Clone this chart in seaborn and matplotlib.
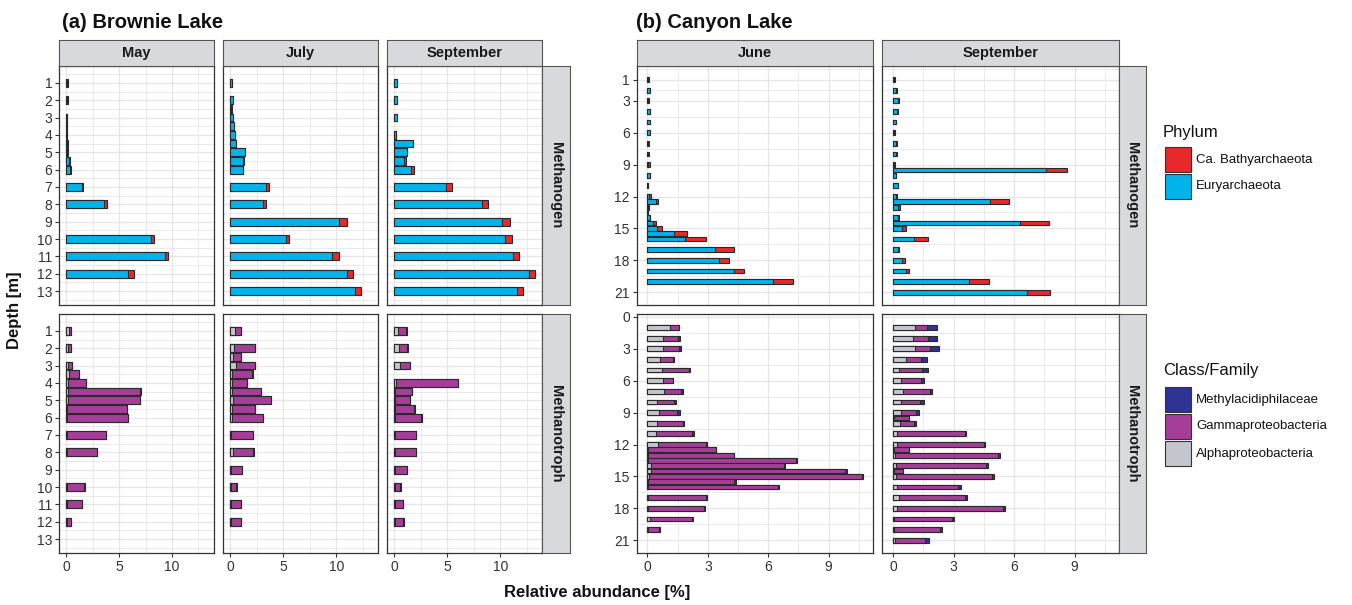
import numpy as np
import pandas as pd
import matplotlib
matplotlib.use("Agg")
import matplotlib.pyplot as plt
from matplotlib.patches import Rectangle
import seaborn as sns

# ---------------- data ----------------
# Brownie Lake, methanogens (Euryarchaeota, Ca. Bathyarchaeota), % relative abundance
br_may_mg_depth = [1, 2, 3, 3.5, 4, 4.5, 5, 5.5, 6, 7, 8, 10, 11, 12]
br_may_eury = [0.03, 0.03, 0.02, 0.02, 0.02, 0.10, 0.08, 0.25, 0.38, 1.48, 3.56, 8.04, 9.37, 5.87]
br_may_bathy = [0.08, 0.08, 0.05, 0.04, 0.03, 0.09, 0.07, 0.10, 0.06, 0.12, 0.29, 0.26, 0.25, 0.57]

br_jul_mg_depth = [1, 2, 2.5, 3, 3.5, 4, 4.5, 5, 5.5, 6, 7, 8, 9, 10, 11, 12, 13]
br_jul_eury = [0.15, 0.22, 0.05, 0.20, 0.30, 0.40, 0.50, 1.35, 1.20, 1.18, 3.33, 3.05, 10.22, 5.28, 9.62, 10.97, 11.76]
br_jul_bathy = [0.03, 0.05, 0.10, 0.08, 0.05, 0.07, 0.07, 0.07, 0.06, 0.05, 0.35, 0.28, 0.75, 0.25, 0.66, 0.57, 0.54]

br_sep_mg_depth = [1, 2, 3, 4, 4.5, 5, 5.5, 6, 7, 8, 9, 10, 11, 12, 13]
br_sep_eury = [0.20, 0.25, 0.25, 0.15, 1.75, 1.15, 0.91, 1.60, 4.90, 8.27, 10.19, 10.44, 11.16, 12.67, 11.54]
br_sep_bathy = [0.08, 0.03, 0.03, 0.04, 0.05, 0.05, 0.16, 0.29, 0.57, 0.57, 0.75, 0.69, 0.63, 0.63, 0.56]

# Brownie Lake, methanotrophs (Alphaproteobacteria, Gammaproteobacteria, Methylacidiphilaceae)
br_may_mt_depth = [1, 2, 3, 3.5, 4, 4.5, 5, 5.5, 6, 7, 8, 10, 11, 12]
br_may_alpha = [0.25, 0.19, 0.15, 0.25, 0.19, 0.19, 0.19, 0.10, 0.06, 0.03, 0.03, 0.02, 0.02, 0.02]
br_may_gamma = [0.16, 0.28, 0.39, 0.92, 1.64, 6.82, 6.76, 5.62, 5.76, 3.70, 2.85, 1.69, 1.44, 0.40]
br_may_methyl = [0.00, 0.00, 0.00, 0.00, 0.00, 0.02, 0.02, 0.02, 0.02, 0.02, 0.02, 0.02, 0.02, 0.02]

br_jul_mt_depth = [1, 2, 2.5, 3, 3.5, 4, 4.5, 5, 5.5, 6, 7, 8, 9, 10, 11, 12]
br_jul_alpha = [0.44, 0.38, 0.25, 0.53, 0.19, 0.13, 0.13, 0.22, 0.13, 0.13, 0.06, 0.28, 0.05, 0.03, 0.03, 0.03]
br_jul_gamma = [0.53, 1.95, 0.72, 1.80, 1.88, 1.44, 2.76, 3.62, 2.20, 2.94, 2.05, 1.89, 1.05, 0.54, 0.98, 0.98]
br_jul_methyl = [0.03] * 16

br_sep_mt_depth = [1, 2, 3, 4, 4.5, 5, 5.5, 6, 7, 8, 9, 10, 11, 12]
br_sep_alpha = [0.31, 0.47, 0.53, 0.19, 0.08, 0.05, 0.05, 0.05, 0.03, 0.03, 0.03, 0.03, 0.03, 0.03]
br_sep_gamma = [0.82, 0.76, 0.92, 5.78, 1.59, 1.40, 1.84, 2.50, 2.02, 2.02, 1.17, 0.54, 0.76, 0.82]
br_sep_methyl = [0.03] * 14

# Canyon Lake, methanogens
cy_jun_depth = [1, 2, 3, 4, 5, 6, 7, 8, 9, 10, 11, 12, 12.5, 13, 13.5, 14, 14.5, 15, 15.5, 16, 17, 18, 19, 20]
cy_jun_eury = [0.05, 0.12, 0.03, 0.12, 0.12, 0.12, 0.03, 0.04, 0.05, 0.12, 0.01, 0.08, 0.43, 0.03, 0.00, 0.11,
               0.30, 0.46, 1.31, 1.85, 3.36, 3.55, 4.30, 6.25]
cy_jun_bathy = [0.05, 0.03, 0.07, 0.03, 0.03, 0.03, 0.04, 0.06, 0.07, 0.03, 0.04, 0.09, 0.08, 0.05, 0.02, 0.02,
                0.13, 0.28, 0.66, 1.04, 0.94, 0.52, 0.51, 0.96]

cy_sep_depth = [1, 2, 3, 4, 5, 6, 7, 8, 9, 9.5, 10, 11, 12, 12.5, 13, 14, 14.5, 15, 16, 17, 18, 19, 20, 21]
cy_sep_eury = [0.03, 0.15, 0.27, 0.22, 0.13, 0.03, 0.17, 0.17, 0.05, 7.56, 0.13, 0.23, 0.15, 4.83, 0.25, 0.27,
               6.28, 0.46, 1.02, 0.25, 0.44, 0.63, 3.76, 6.62]
cy_sep_bathy = [0.05, 0.03, 0.03, 0.03, 0.03, 0.05, 0.03, 0.03, 0.07, 1.06, 0.03, 0.03, 0.03, 0.90, 0.08, 0.03,
                1.45, 0.20, 0.69, 0.03, 0.14, 0.16, 0.98, 1.16]

# Canyon Lake, methanotrophs
cy_jun_alpha = [1.12, 0.79, 0.76, 0.63, 0.73, 0.79, 0.83, 0.50, 0.60, 0.46, 0.43, 0.51, 0.05, 0.02, 0.02, 0.17,
                0.20, 0.08, 0.05, 0.05, 0.05, 0.05, 0.13, 0.02]
cy_jun_gamma = [0.43, 0.71, 0.83, 0.63, 1.32, 0.47, 0.84, 0.82, 0.89, 1.29, 1.78, 2.40, 3.34, 4.28, 7.38, 6.61,
                9.60, 10.55, 4.25, 6.45, 2.86, 2.78, 2.08, 0.58]
cy_jun_methyl = [0.04, 0.14, 0.10, 0.06, 0.07, 0.03, 0.12, 0.10, 0.11, 0.08, 0.10, 0.07, 0.03, 0.02, 0.02, 0.06,
                 0.12, 0.06, 0.11, 0.02, 0.05, 0.02, 0.04, 0.02]

cy_sep_alpha = [1.07, 0.99, 1.07, 0.63, 0.28, 0.38, 0.48, 0.41, 0.41, 0.05, 0.33, 0.20, 0.18, 0.03, 0.10, 0.16,
                0.03, 0.13, 0.18, 0.31, 0.18, 0.07, 0.05, 0.10]
cy_sep_gamma = [0.61, 0.72, 0.74, 0.75, 1.15, 1.00, 1.33, 0.92, 0.74, 0.74, 0.72, 3.37, 4.33, 0.74, 5.09, 4.44,
                0.48, 4.76, 3.03, 3.26, 5.27, 2.85, 2.26, 1.51]
cy_sep_methyl = [0.51, 0.46, 0.45, 0.30, 0.32, 0.14, 0.13, 0.22, 0.13, 0.01, 0.10, 0.07, 0.05, 0.01, 0.10, 0.11,
                 0.01, 0.10, 0.15, 0.12, 0.12, 0.09, 0.14, 0.15]

months_brownie = ["May", "July", "September"]
months_canyon = ["June", "September"]
groups = ["Methanogen", "Methanotroph"]
phylum_labels = ["Ca. Bathyarchaeota", "Euryarchaeota"]
class_labels = ["Methylacidiphilaceae", "Gammaproteobacteria", "Alphaproteobacteria"]

# ---------------- style ----------------
C_BATHY = "#E8282B"
C_EURY = "#00B3EA"
C_METHYL = "#2D3494"
C_GAMMA = "#A43E98"
C_ALPHA = "#C3C6CC"
EDGE = "#2A2A2A"
STRIP = "#D7D9DD"
GRID = "#E6E6E8"

sns.set_theme(style="white")
plt.rcParams["font.family"] = ["Liberation Sans", "DejaVu Sans"]
COND = ["Liberation Sans Narrow", "Liberation Sans", "DejaVu Sans"]

W, H = 1352, 605
fig = plt.figure(figsize=(W / 100, H / 100), dpi=100)


def frac(x0, y0, x1, y1):
    return [x0 / W, 1 - y1 / H, (x1 - x0) / W, (y1 - y0) / H]


def stacked(ax, depth, layers, colors):
    """Stacked horizontal bars: layers are drawn as cumulative sums, widest first."""
    cum = np.cumsum(np.array(layers, dtype=float), axis=0)
    for i in range(len(layers) - 1, -1, -1):
        df = pd.DataFrame({"depth": depth, "value": cum[i]})
        sns.barplot(data=df, x="value", y="depth", orient="h", native_scale=True,
                    color=colors[i], saturation=1, width=0.9, errorbar=None,
                    edgecolor=EDGE, linewidth=0.8, ax=ax)
    ax.set_xlabel("")
    ax.set_ylabel("")


def style_panel(ax, xlim, xmaj, xmin, ylim, ymaj, ymin, ylabels, show_x, show_y):
    ax.set_xlim(*xlim)
    ax.set_ylim(*ylim)
    ax.set_xticks(xmaj)
    ax.set_xticks(xmin, minor=True)
    ax.set_yticks(ymaj)
    ax.set_yticks(ymin, minor=True)
    ax.grid(True, which="major", color=GRID, lw=0.9)
    ax.grid(True, which="minor", color=GRID, lw=0.6)
    ax.set_axisbelow(True)
    ax.set_facecolor("white")
    for s in ax.spines.values():
        s.set_color("#333333")
        s.set_linewidth(0.9)
        s.set_visible(True)
    ax.tick_params(which="minor", length=0)
    ax.tick_params(which="major", length=3, width=0.8, color="#333333", labelsize=10,
                   labelcolor="#333333", pad=2, direction="out",
                   left=show_y, bottom=show_x, labelleft=show_y, labelbottom=show_x)
    if show_y:
        ax.set_yticklabels(ylabels)
    if show_x:
        ax.set_xticklabels([str(v) for v in xmaj])


def strip(x0, y0, x1, y1, text, rotation=0):
    sax = fig.add_axes(frac(x0, y0, x1, y1))
    sax.set_facecolor(STRIP)
    sax.set_xticks([])
    sax.set_yticks([])
    for s in sax.spines.values():
        s.set_color("#555555")
        s.set_linewidth(0.8)
    sax.text(0.5, 0.5, text, ha="center", va="center", rotation=rotation,
             fontsize=10.5, fontweight="bold", color="#1a1a1a", family=COND,
             transform=sax.transAxes)


rows_px = [(66, 305), (314, 553)]

# ---------------- Brownie Lake ----------------
br_cols = [(59.3, 214), (223.3, 378.3), (387.3, 542.3)]
br_mg = [(br_may_mg_depth, br_may_eury, br_may_bathy),
         (br_jul_mg_depth, br_jul_eury, br_jul_bathy),
         (br_sep_mg_depth, br_sep_eury, br_sep_bathy)]
br_mt = [(br_may_mt_depth, br_may_alpha, br_may_gamma, br_may_methyl),
         (br_jul_mt_depth, br_jul_alpha, br_jul_gamma, br_jul_methyl),
         (br_sep_mt_depth, br_sep_alpha, br_sep_gamma, br_sep_methyl)]
br_yticks = list(range(1, 14))
br_yminor = [v + 0.5 for v in range(0, 14)]

for c, (x0, x1) in enumerate(br_cols):
    for r, (y0, y1) in enumerate(rows_px):
        ax = fig.add_axes(frac(x0, y0, x1, y1))
        if r == 0:
            d, eury, bathy = br_mg[c]
            stacked(ax, d, [eury, bathy], [C_EURY, C_BATHY])
        else:
            d, alpha, gamma, methyl = br_mt[c]
            stacked(ax, d, [alpha, gamma, methyl], [C_ALPHA, C_GAMMA, C_METHYL])
        style_panel(ax, (-0.67, 13.97), [0, 5, 10], [2.5, 7.5, 12.5],
                    (13.8, 0.03), br_yticks, br_yminor, [str(v) for v in br_yticks],
                    show_x=(r == 1), show_y=(c == 0))
    strip(x0, 40, x1, 66, months_brownie[c])

for r, (y0, y1) in enumerate(rows_px):
    strip(542.3, y0, 570, y1, groups[r], rotation=-90)

# ---------------- Canyon Lake ----------------
cy_cols = [(636.7, 873), (882.3, 1119)]
cy_mg = [(cy_jun_depth, cy_jun_eury, cy_jun_bathy),
         (cy_sep_depth, cy_sep_eury, cy_sep_bathy)]
cy_mt = [(cy_jun_depth, cy_jun_alpha, cy_jun_gamma, cy_jun_methyl),
         (cy_sep_depth, cy_sep_alpha, cy_sep_gamma, cy_sep_methyl)]
cy_yticks = [[1, 3, 6, 9, 12, 15, 18, 21], [0, 3, 6, 9, 12, 15, 18, 21]]
cy_yminor = [[0, 2, 4.5, 7.5, 10.5, 13.5, 16.5, 19.5], [1.5, 4.5, 7.5, 10.5, 13.5, 16.5, 19.5]]

for c, (x0, x1) in enumerate(cy_cols):
    for r, (y0, y1) in enumerate(rows_px):
        ax = fig.add_axes(frac(x0, y0, x1, y1))
        if r == 0:
            d, eury, bathy = cy_mg[c]
            stacked(ax, d, [eury, bathy], [C_EURY, C_BATHY])
        else:
            d, alpha, gamma, methyl = cy_mt[c]
            stacked(ax, d, [alpha, gamma, methyl], [C_ALPHA, C_GAMMA, C_METHYL])
        style_panel(ax, (-0.53, 11.2), [0, 3, 6, 9], [1.5, 4.5, 7.5, 10.5],
                    (22.2, -0.27), cy_yticks[r], cy_yminor[r], [str(v) for v in cy_yticks[r]],
                    show_x=(r == 1), show_y=(c == 0))
    strip(x0, 40, x1, 66, months_canyon[c])

for r, (y0, y1) in enumerate(rows_px):
    strip(1119, y0, 1146, y1, groups[r], rotation=-90)

# ---------------- titles and axis labels ----------------
fig.text(62 / W, 1 - 22 / H, "(a) Brownie Lake", ha="left", va="center",
         fontsize=14.5, fontweight="bold", family=COND, color="#111111")
fig.text(636 / W, 1 - 22 / H, "(b) Canyon Lake", ha="left", va="center",
         fontsize=14.5, fontweight="bold", family=COND, color="#111111")
fig.text(15 / W, 1 - 310 / H, "Depth [m]", ha="center", va="center", rotation=90,
         fontsize=12, fontweight="bold", color="#111111")
fig.text(597 / W, 1 - 593 / H, "Relative abundance [%]", ha="center", va="center",
         fontsize=12, fontweight="bold", color="#111111")

# ---------------- legends ----------------
def legend_block(title, title_y, labels, colors, top_y):
    fig.text(1163 / W, 1 - title_y / H, title, ha="left", va="center",
             fontsize=12, color="#111111")
    for i, (lab, col) in enumerate(zip(labels, colors)):
        y = top_y + i * 27
        fig.add_artist(Rectangle((1165 / W, 1 - (y + 25) / H), 25.5 / W, 25 / H,
                                 transform=fig.transFigure, facecolor=col,
                                 edgecolor="#333333", lw=0.8))
        fig.text(1196 / W, 1 - (y + 12.5) / H, lab, ha="left", va="center",
                 fontsize=9.5, color="#111111")


legend_block("Phylum", 133, phylum_labels, [C_BATHY, C_EURY], 147)
legend_block("Class/Family", 371, class_labels, [C_METHYL, C_GAMMA, C_ALPHA], 387)

fig.savefig("out.png", dpi=100, facecolor="white")
